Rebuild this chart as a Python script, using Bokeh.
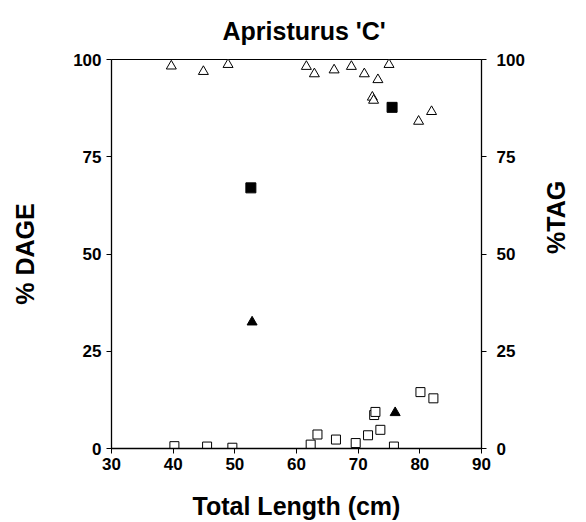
import math
from bokeh.plotting import figure
from bokeh.models import Range1d, LinearAxis, FixedTicker, Title
from bokeh.embed import file_html
from bokeh.resources import INLINE

# ---- data ----
dage_x = [39.7, 44.9, 48.9, 61.6, 62.9, 66.1, 68.9, 71.0, 73.2, 72.3, 72.5, 75.0, 79.8, 81.9]
dage_y = [98.3, 96.9, 98.7, 98.2, 96.3, 97.3, 98.2, 96.3, 94.8, 90.3, 89.5, 98.7, 84.1, 86.6]

tag_x = [40.2, 45.5, 49.6, 62.3, 63.4, 66.4, 69.6, 71.6, 72.6, 72.8, 73.6, 75.8, 80.1, 82.2]
tag_y = [0.6, 0.5, 0.2, 1.0, 3.6, 2.3, 1.4, 3.4, 8.6, 9.4, 4.8, 0.5, 14.5, 12.9]

dage_f_x = [52.6, 75.5]
dage_f_y = [67.0, 87.7]

tag_f_x = [52.8, 76.0]
tag_f_y = [32.5, 9.2]

x_ticks = [30, 40, 50, 60, 70, 80, 90]
y_ticks = [0, 25, 50, 75, 100]

FONT = "Liberation Sans"

p = figure(width=586, height=522, output_backend="svg", toolbar_location=None,
           x_range=Range1d(30, 90), y_range=Range1d(0, 100),
           min_border_left=111, min_border_right=104, min_border_top=59, min_border_bottom=74)
p.extra_y_ranges = {"right": Range1d(0, 100)}

p.add_layout(Title(text="Apristurus 'C'", align="left", offset=111, standoff=29,
                   text_font=FONT, text_font_size="25px", text_font_style="bold",
                   text_color="black"), "above")

p.xgrid.visible = False
p.ygrid.visible = False
p.background_fill_color = "white"
p.border_fill_color = "white"
p.outline_line_color = "black"
p.outline_line_width = 1

right = LinearAxis(y_range_name="right")
p.add_layout(right, "right")

for ax in [p.xaxis[0], p.yaxis[0], right]:
    ax.axis_line_color = "black"
    ax.axis_line_width = 1.3
    ax.major_tick_line_color = "black"
    ax.major_tick_out = 5
    ax.major_tick_in = 0
    ax.minor_tick_line_color = None
    ax.major_label_text_font = FONT
    ax.major_label_text_font_size = "17px"
    ax.major_label_text_font_style = "bold"
    ax.major_label_text_color = "black"
    ax.axis_label_text_font = FONT
    ax.axis_label_text_font_size = "25px"
    ax.axis_label_text_font_style = "bold"
    ax.axis_label_text_color = "black"

p.xaxis[0].ticker = FixedTicker(ticks=x_ticks)
p.yaxis[0].ticker = FixedTicker(ticks=y_ticks)
right.ticker = FixedTicker(ticks=y_ticks)

p.xaxis[0].axis_label = "Total Length (cm)"
p.xaxis[0].major_label_standoff = 4
p.xaxis[0].axis_label_standoff = 19

p.yaxis[0].axis_label = "% DAGE"
p.yaxis[0].major_label_standoff = 5
p.yaxis[0].axis_label_standoff = 31

right.axis_label = "%TAG"
right.major_label_standoff = 10
right.axis_label_standoff = 28
try:
    right.axis_label_orientation = math.pi / 2
except Exception:
    pass

p.scatter(dage_x, dage_y, marker="triangle", size=10, fill_color="white",
          line_color="black", line_width=1)
p.scatter(tag_x, tag_y, marker="square", size=9, fill_color="white",
          line_color="black", line_width=1)
p.scatter(dage_f_x, dage_f_y, marker="square", size=10, fill_color="black",
          line_color="black")
p.scatter(tag_f_x, tag_f_y, marker="triangle", size=10, fill_color="black",
          line_color="black")

open("out.html", "w").write(file_html(p, INLINE))
